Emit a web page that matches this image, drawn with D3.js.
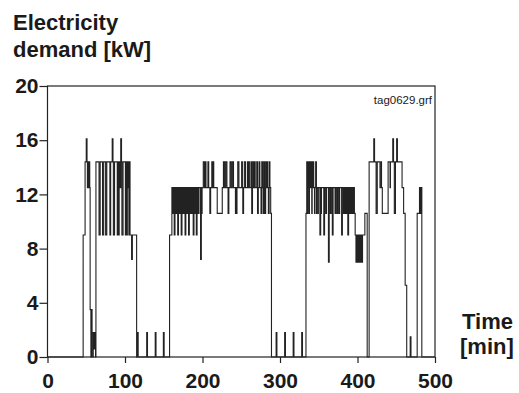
<!DOCTYPE html>
<html>
<head>
<meta charset="utf-8">
<script src="https://cdn.jsdelivr.net/npm/d3@7"></script>
<style>
  body { margin: 0; background: #fff; }
  text { font-family: "Liberation Sans", Arial, sans-serif; fill: #1a1a1a; }
</style>
</head>
<body>
<div id="chart"></div>
<script>
// change points [minute, kW], the value holds until the next point
var blockA = [[0, 0], [46, 9], [48.5, 14.4], [50, 16.1], [51, 14.4], [51.5, 12.5], [52, 14.4], [52.5, 12.5],
  [53, 14.4], [53.5, 12.5], [54, 14.4], [54.5, 12.5], [55, 3.5], [56, 0], [57, 3.5], [57.5, 1.8], [58.5, 0],
  [59, 1.8], [60, 0.6], [61, 1.8], [62, 0], [62.5, 14.4], [66.5, 9], [68, 14.4], [71, 9], [72.5, 14.4],
  [75, 9], [76.5, 14.4], [80.5, 9], [81.5, 14.4], [83.5, 16.1], [84.5, 14.4], [85, 9], [86.5, 14.4],
  [90, 9], [91, 14.4], [91.5, 12.5], [92, 9], [92.5, 14.4], [93, 12.5], [93.5, 14.4], [94, 12.5],
  [94.5, 16.1], [95.5, 14.4], [96, 9], [97.5, 14.4], [100.5, 9], [101.5, 14.4], [102, 12.5], [102.5, 9],
  [103, 14.4], [103.5, 12.5], [104, 14.4], [104.5, 12.5], [105, 9], [105.5, 14.4], [106.5, 9],
  [108.5, 7.2], [109.5, 9], [115, 0]];

var gapAB = [[116, 1.8], [117, 0], [128, 1.8], [129, 0], [139, 1.8], [140, 0], [149.5, 1.8], [150.5, 0]];

var blockB = [[157.5, 9], [160.5, 12.5], [161, 10.6], [161.5, 12.5], [162, 10.6], [162.5, 12.5], [163.5, 9],
  [164.5, 12.5], [165, 10.6], [165.5, 12.5], [166, 10.6], [166.5, 12.5], [167, 10.6], [167.5, 12.5], [168, 9],
  [169, 12.5], [169.5, 10.6], [170, 12.5], [170.5, 10.6], [171, 12.5], [171.5, 10.6], [172, 12.5], [172.5, 9],
  [173.5, 12.5], [174, 10.6], [174.5, 12.5], [175, 10.6], [175.5, 12.5], [176, 10.6], [176.5, 12.5], [177.5, 9],
  [178.5, 12.5], [179, 10.6], [179.5, 12.5], [180, 10.6], [180.5, 12.5], [181, 10.6], [181.5, 12.5], [182, 9],
  [183, 12.5], [183.5, 10.6], [184, 12.5], [185, 10.6], [185.5, 12.5], [186.5, 10.6], [187, 12.5], [188, 9],
  [189, 12.5], [189.5, 10.6], [190, 12.5], [190.5, 10.6], [191, 12.5], [192, 9], [193, 12.5], [193.5, 10.6],
  [194, 12.5], [195, 10.6], [195.5, 12.5], [197.5, 7.2], [198.5, 12.5], [199, 10.6], [199.5, 12.5],
  [201, 14.4], [202.5, 12.5], [203.5, 14.4], [204.5, 12.5], [207, 14.4], [208, 12.5], [209.5, 10.6],
  [210.5, 12.5], [212, 14.4], [213, 12.5], [213.5, 14.4], [214.5, 12.5], [219, 10.6], [225.5, 12.5],
  [227, 14.4], [228.5, 12.5], [230, 14.4], [231.5, 12.5], [233, 10.6], [234, 12.5], [235.5, 14.4],
  [237, 12.5], [238.5, 14.4], [240, 12.5], [242.5, 10.6], [243, 12.5], [243.5, 10.6], [244.5, 12.5],
  [245.5, 14.4], [247, 12.5], [250.5, 14.4], [251.5, 12.5], [252, 10.6], [253, 12.5], [254, 14.4],
  [255.5, 12.5], [258, 14.4], [259, 12.5], [259.5, 14.4], [260.5, 12.5], [262.5, 14.4], [263.5, 10.6],
  [264.5, 12.5], [265, 14.4], [266, 12.5], [267, 14.4], [268, 12.5], [270, 14.4], [271, 10.6], [272, 12.5],
  [273, 14.4], [274, 12.5], [275.5, 10.6], [276.5, 14.4], [277, 12.5], [277.5, 14.4], [278, 12.5],
  [278.5, 10.6], [279.5, 14.4], [280, 12.5], [280.5, 10.6], [281.5, 14.4], [282, 12.5], [282.5, 14.4],
  [283, 12.5], [283.5, 14.4], [284, 12.5], [285, 10.6], [286, 14.4], [287, 12.5], [288, 10.6], [289, 0]];

var gapBC = [[295, 1.8], [296, 0], [306, 1.8], [307, 0], [317, 1.8], [318, 0], [328, 1.8], [329, 0]];

var blockC = [[333.5, 10.6], [334.5, 14.4], [335.5, 10.6], [336, 14.4], [336.5, 12.5], [337, 14.4],
  [337.5, 10.6], [338, 14.4], [338.5, 12.5], [339, 14.4], [339.5, 12.5], [340, 14.4], [341, 10.6],
  [341.5, 14.4], [342, 12.5], [342.5, 14.4], [343.5, 12.5], [344.5, 10.6], [345, 12.5], [346, 14.4],
  [347, 10.6], [347.5, 12.5], [349, 10.6], [349.5, 12.5], [351.5, 9], [352.5, 12.5], [353, 10.6],
  [353.5, 12.5], [356.5, 9], [357.5, 12.5], [359, 10.6], [360, 12.5], [362.5, 7], [363.5, 12.5],
  [365, 10.6], [366, 12.5], [367.5, 9], [368.5, 12.5], [371, 10.6], [372, 12.5], [373.5, 10.6],
  [374.5, 12.5], [376, 10.6], [377, 12.5], [379.5, 9], [380.5, 12.5], [382, 10.6], [382.5, 12.5],
  [383, 10.6], [383.5, 12.5], [384, 10.6], [384.5, 12.5], [385, 10.6], [385.5, 12.5], [386, 10.6],
  [386.5, 12.5], [387.5, 9], [388.5, 12.5], [389, 10.6], [389.5, 12.5], [390, 10.6], [390.5, 12.5],
  [391, 10.6], [391.5, 12.5], [392, 10.6], [392.5, 12.5], [393, 10.6], [393.5, 12.5], [394, 10.6],
  [394.5, 12.5], [395, 10.6], [395.5, 12.5], [396, 10.6], [397, 9], [398, 7], [398.5, 9], [399, 7],
  [399.5, 9], [400, 7], [400.5, 9], [401, 7], [401.5, 9], [402, 7], [402.5, 9], [403, 7], [403.5, 9],
  [404, 7], [404.5, 9], [405, 7], [405.5, 9], [406, 7], [406.5, 9], [409.5, 10.6], [412.5, 0]];

var blockD = [[415, 14.4], [421, 16.1], [422, 14.4], [424, 10.6], [425.5, 14.4], [429, 12.5], [430.5, 14.4],
  [431, 12.5], [432, 10.6], [439.5, 14.4], [442, 12.5], [442.5, 14.4], [445.5, 16.1], [446.5, 14.4],
  [447.5, 10.6], [449, 14.4], [450.5, 16.1], [451.5, 14.4], [457.5, 12.5], [459.5, 10.6], [461.5, 5.3],
  [463.5, 0], [468, 1.5], [469, 0], [477, 10.6], [480, 12.5], [480.5, 10.6], [481, 12.5], [481.5, 10.6],
  [482, 12.5], [483, 0], [500, 0]];

var xTicks = [0, 100, 200, 300, 400, 500];
var yTicks = [0, 4, 8, 12, 16, 20];

var demand = blockA.concat(gapAB, blockB, gapBC, blockC, blockD);

var width = 519, height = 393;
var margin = {top: 86, right: 84, bottom: 36, left: 47.5};

var x = d3.scaleLinear()
    .domain([0, 500])
    .range([margin.left, width - margin.right]);

var y = d3.scaleLinear()
    .domain([0, 20])
    .range([height - margin.bottom, margin.top]);

var svg = d3.select("#chart").append("svg")
    .attr("width", width)
    .attr("height", height);

// frame
svg.append("rect")
    .attr("x", x(0))
    .attr("y", y(20))
    .attr("width", x(500) - x(0))
    .attr("height", y(0) - y(20))
    .attr("fill", "none")
    .attr("stroke", "#222")
    .attr("stroke-width", 1.2);

var xAxis = d3.axisBottom(x)
    .tickValues(xTicks)
    .tickSize(6)
    .tickPadding(10);

var yAxis = d3.axisLeft(y)
    .tickValues(yTicks)
    .tickSize(8)
    .tickPadding(1);

function styleAxis(g) {
    g.select(".domain").remove();
    g.selectAll(".tick line").attr("stroke", "#222").attr("stroke-width", 1.2);
    g.selectAll(".tick text")
        .attr("fill", "#1a1a1a")
        .style("font-family", "'Liberation Sans', Arial, sans-serif")
        .style("font-size", "21px")
        .style("font-weight", "bold");
}

svg.append("g")
    .attr("class", "xAxis")
    .attr("transform", "translate(0," + y(0) + ")")
    .call(xAxis)
    .call(styleAxis);

svg.append("g")
    .attr("class", "yAxis")
    .attr("transform", "translate(" + x(0) + ",0)")
    .call(yAxis)
    .call(styleAxis);

var line = d3.line()
    .x(function(d) { return x(d[0]); })
    .y(function(d) { return y(d[1]); })
    .curve(d3.curveStepAfter);

svg.append("path")
    .datum(demand)
    .attr("d", line)
    .attr("fill", "none")
    .attr("stroke", "#222")
    .attr("stroke-width", 1.1);

// titles
var yTitle = svg.append("text")
    .attr("x", 13)
    .style("font-size", "22px")
    .style("font-weight", "bold");
yTitle.append("tspan").attr("x", 13).attr("y", 30).text("Electricity");
yTitle.append("tspan").attr("x", 13).attr("y", 57).text("demand [kW]");

var xTitle = svg.append("text")
    .style("font-size", "22px")
    .style("font-weight", "bold");
xTitle.append("tspan").attr("x", 462).attr("y", 329).text("Time");
xTitle.append("tspan").attr("x", 460).attr("y", 354).text("[min]");

svg.append("text")
    .attr("x", 432)
    .attr("y", 104)
    .attr("text-anchor", "end")
    .style("font-size", "11.5px")
    .text("tag0629.grf");
</script>
</body>
</html>
